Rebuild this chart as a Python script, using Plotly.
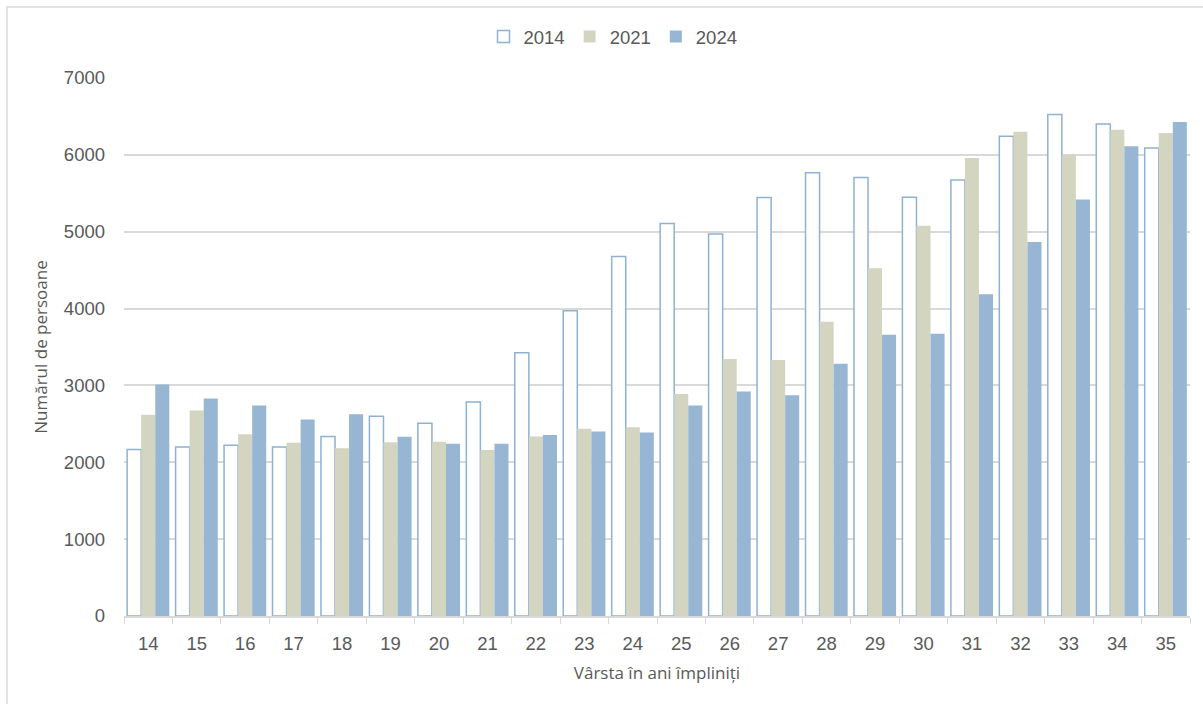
import plotly.graph_objects as go

ages = [str(a) for a in range(14, 36)]
v2014 = [2166, 2200, 2222, 2200, 2335, 2600, 2509, 2786, 3425, 3972, 4677, 5108,
         4969, 5444, 5767, 5707, 5447, 5674, 6242, 6526, 6400, 6088]
v2021 = [2617, 2674, 2365, 2253, 2183, 2261, 2266, 2161, 2334, 2437, 2455, 2890,
         3344, 3330, 3829, 4526, 5079, 5958, 6302, 6000, 6326, 6284]
v2024 = [3012, 2830, 2739, 2556, 2626, 2331, 2240, 2240, 2356, 2401, 2388, 2738,
         2922, 2873, 3281, 3660, 3674, 4186, 4865, 5419, 6112, 6428]

W, H = 1203, 704
L, R, T, B = 124, 13, 78, 88

fig = go.Figure()
fig.add_trace(go.Bar(x=ages, y=v2014, name="2014",
                     marker=dict(color="white", line=dict(color="#8fb1d4", width=1.5))))
fig.add_trace(go.Bar(x=ages, y=v2021, name="2021",
                     marker=dict(color="#d3d5c0", line=dict(width=0))))
fig.add_trace(go.Bar(x=ages, y=v2024, name="2024",
                     marker=dict(color="#97b6d3", line=dict(width=0))))

pw = W - L - R
ph = H - T - B
def px2x(p):
    return (p - L) / pw
def px2y(p):
    return (H - B - p) / ph

fig.add_shape(type="rect", xref="paper", yref="paper",
              x0=px2x(7), x1=px2x(1215), y0=px2y(715), y1=px2y(7),
              line=dict(color="#d9d9d9", width=1.5), fillcolor="rgba(0,0,0,0)", layer="below")

fig.update_layout(
    width=W, height=H,
    margin=dict(l=L, r=R, t=T, b=B, autoexpand=False),
    paper_bgcolor="white", plot_bgcolor="white",
    barmode="group", bargap=0.13, bargroupgap=0.0,
    font=dict(family="Liberation Sans, Arial, sans-serif", color="#595959", size=18.5),
    legend=dict(orientation="h", x=px2x(613), xanchor="center", y=px2y(37), yanchor="middle",
                font=dict(size=18.5, color="#595959"), traceorder="normal",
                itemwidth=30, bgcolor="rgba(0,0,0,0)"),
    xaxis=dict(type="category", tickson="boundaries", ticks="outside", ticklen=6,
               tickcolor="#d9d9d9", showline=True, linecolor="#d9d9d9", linewidth=1.5,
               showgrid=False, ticklabelstandoff=10,
               tickfont=dict(size=18.5, color="#595959"),
               title=dict(text="Vârsta în ani împliniți",
                          font=dict(family="Open Sans, sans-serif", size=17, color="#595959"),
                          standoff=14)),
    yaxis=dict(range=[0, 7000], dtick=1000, showgrid=True, gridcolor="#d9d9d9", gridwidth=1.5,
               zeroline=False, showline=False, ticks="", ticklabelstandoff=18,
               tickfont=dict(size=18.5, color="#595959"),
               title=dict(text="Numărul de persoane",
                          font=dict(family="Open Sans, sans-serif", size=17, color="#595959"),
                          standoff=11)),
)

fig.write_html("out.html", config={"displayModeBar": False},
               post_script="document.body.style.margin='0';")
